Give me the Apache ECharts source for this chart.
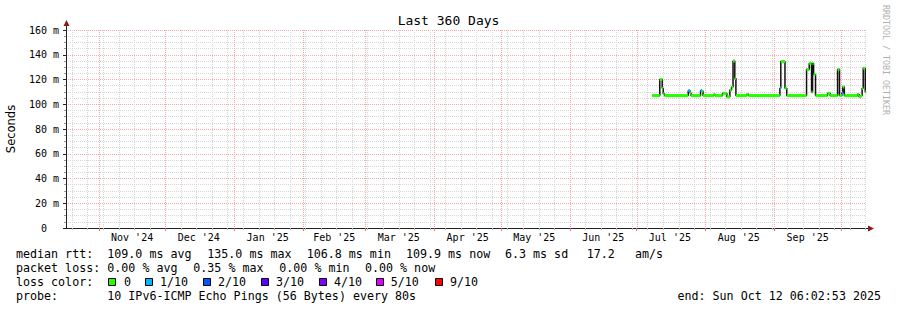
<!DOCTYPE html>
<html><head><meta charset="utf-8">
<script src="https://cdn.jsdelivr.net/npm/echarts@6/dist/echarts.min.js"></script>
<style>html,body{margin:0;padding:0;background:#fff}#c{width:897px;height:310px}</style>
</head><body><div id="c"></div>
<script>
// ---------- data ----------
const periodStart = '2024-10-17 06:02:53';
const periodEnd   = '2025-10-12 06:02:53';

const sampleTimes = [
  '2025-07-08 00:00','2025-07-11 11:00','2025-07-12 13:00','2025-07-13 00:00','2025-07-13 14:00',
  '2025-07-24 06:00','2025-07-25 02:00','2025-07-25 12:00','2025-07-29 19:00','2025-07-30 12:00',
  '2025-07-30 22:00','2025-08-04 19:00','2025-08-05 08:00','2025-08-08 17:00','2025-08-10 15:00',
  '2025-08-12 00:00','2025-08-12 18:00','2025-08-13 10:00','2025-08-14 05:00','2025-08-14 17:00',
  '2025-08-19 15:00','2025-08-20 10:00','2025-09-03 12:00','2025-09-03 22:00','2025-09-05 19:00',
  '2025-09-06 14:00','2025-09-15 12:00','2025-09-16 17:00','2025-09-17 18:00','2025-09-18 05:00',
  '2025-09-18 16:00','2025-09-19 13:00','2025-09-24 23:00','2025-09-26 02:00','2025-09-29 11:00',
  '2025-09-30 08:00','2025-10-01 10:00','2025-10-01 19:00','2025-10-02 12:00','2025-10-08 12:00',
  '2025-10-09 03:00','2025-10-10 00:00','2025-10-10 12:00','2025-10-11 00:00','2025-10-11 22:00',
  '2025-10-12 06:00'
];
const medianRttMs = [
  107, 120, 113, 108.5, 107,
  111, 109, 107, 111, 110.5,
  107, 108, 107, 108.8, 106,
  111.5, 114, 135, 121, 107,
  108, 107, 113, 134.5, 113,
  107, 128, 133, 110, 133,
  124, 107, 108.8, 107, 128,
  107, 109, 114, 107, 108,
  106, 107, 113, 129, 110,
  110
];
const lossCount = [
  0,0,0,0,0,
  1,0,0,1,0,
  0,0,0,0,0,
  0,0,0,0,0,
  0,0,1,0,0,
  0,0,0,0,0,
  0,0,0,0,0,
  0,1,0,0,0,
  0,0,0,0,0,
  0
];

const monthTickLabels = ["Nov '24","Dec '24","Jan '25","Feb '25","Mar '25","Apr '25","May '25","Jun '25","Jul '25","Aug '25","Sep '25"];
const monthLabelDates = ['2024-11-16','2024-12-16','2025-01-16','2025-02-15','2025-03-16','2025-04-16','2025-05-16','2025-06-16','2025-07-16','2025-08-16','2025-09-16'];
const monthStartDates = ['2024-11-01','2024-12-01','2025-01-01','2025-02-01','2025-03-01','2025-04-01','2025-05-01','2025-06-01','2025-07-01','2025-08-01','2025-09-01','2025-10-01'];
const firstWeekLine = '2024-10-20';

const yTickLabels = ['0','20 m','40 m','60 m','80 m','100 m','120 m','140 m','160 m'];

const lossLegendLabels = ['0','1/10','2/10','3/10','4/10','5/10','9/10'];
const lossLegendCounts = [0,1,2,3,4,5,9];
const lossLegendColors = ['#26ff00','#00b8ff','#0059ff','#5e00ff','#7e00ff','#dd00ff','#ff0000'];

const statsRtt  = ['median rtt:', '109.0 ms avg', '135.0 ms max', '106.8 ms min', '109.9 ms now', '6.3 ms sd', '17.2', 'am/s'];
const statsLoss = ['packet loss:', '0.00 % avg', '0.35 % max', '0.00 % min', '0.00 % now'];
const probeText = ['probe:', '10 IPv6-ICMP Echo Pings (56 Bytes) every 80s'];
const endText = 'end: Sun Oct 12 06:02:53 2025';

// ---------- helpers ----------
function utc(s){
  const parts = s.split(' ');
  const d = parts[0].split('-').map(Number);
  const t = (parts[1] || '00:00:00').split(':').map(Number);
  return Date.UTC(d[0], d[1]-1, d[2], t[0]||0, t[1]||0, t[2]||0);
}
const startMs = utc(periodStart), endMs = utc(periodEnd);
const times = sampleTimes.map(utc);
const labelTimes = monthLabelDates.map(utc);
const labelMap = {};
labelTimes.forEach((t,i)=>{ labelMap[t] = monthTickLabels[i]; });
const monthTicks = monthStartDates.map(utc);
const weekTicks = [];
for (let t = utc(firstWeekLine); t < endMs; t += 7*864e5) weekTicks.push(t);
function lossColor(c){ const i = lossLegendCounts.indexOf(c); return lossLegendColors[i < 0 ? 0 : i]; }

const lineData = times.map((t,i)=>[t, medianRttMs[i]]);
const segData = [];
for (let i = 0; i < times.length - 1; i++) segData.push([times[i], times[i+1], medianRttMs[i], lossCount[i]]);

const MONO = 'DejaVu Sans Mono';
const FS = 11.66;
const MAJOR = '#f6a8a8';
const MINOR = '#d6d6d6';

// ---------- graphic (legend/footer text) ----------
const g = [];
function txt(x, y, s, extra){ g.push(Object.assign({type:'text', x:x, y:y, silent:true, style:Object.assign({text:s, font: FS+'px "'+MONO+'"', fill:'#000', textVerticalAlign:'middle'}, extra||{})})); }
const rttX = [16, 107.3, 207.3, 306.7, 406, 505, 586.7, 635];
statsRtt.forEach((s,i)=>txt(rttX[i], 254.3, s));
const lossX = [16, 107.3, 193.3, 279.3, 365];
statsLoss.forEach((s,i)=>txt(lossX[i], 268.3, s));
txt(16, 282.3, 'loss color:');
const boxX = [108.5, 145.5, 203.5, 261.5, 319.5, 376.5, 435.5];
const boxTextX = [124, 160, 218, 276, 334, 390.7, 450];
lossLegendLabels.forEach((s,i)=>{
  g.push({type:'rect', silent:true, shape:{x:boxX[i], y:278.5, width:7, height:7}, style:{fill:lossLegendColors[i], stroke:'#000', lineWidth:1}});
  txt(boxTextX[i], 282.3, s);
});
txt(16, 296.3, probeText[0]);
txt(107.3, 296.3, probeText[1]);
txt(881, 296.3, endText, {textAlign:'right'});
// axis arrows / extensions
g.push({type:'line', silent:true, shape:{x1:66.5, y1:30, x2:66.5, y2:24}, style:{stroke:'#222', lineWidth:1}});
g.push({type:'polygon', silent:true, shape:{points:[[63.5,26],[69.5,26],[66.5,20]]}, style:{fill:'#8b1a1a'}});
g.push({type:'line', silent:true, shape:{x1:866, y1:228.5, x2:869, y2:228.5}, style:{stroke:'#222', lineWidth:1}});
g.push({type:'polygon', silent:true, shape:{points:[[868,225.5],[868,231.5],[874,228.5]]}, style:{fill:'#8b1a1a'}});
// vendor text
g.push({type:'text', silent:true, x:886, y:60, rotation:-Math.PI/2, style:{text:'RRDTOOL / TOBI OETIKER', font:'8.3px "'+MONO+'"', fill:'#b0b0b0', textAlign:'center', textVerticalAlign:'middle'}});

// ---------- chart ----------
const chart = echarts.init(document.getElementById('c'), null, {renderer:'svg'});
chart.setOption({
  animation:false,
  backgroundColor:'#fff',
  title:{text:'Last 360 Days', left:'center', top:9, textStyle:{fontFamily:MONO, fontSize:13, fontWeight:'normal', color:'#000'}},
  grid:{left:66, top:30, width:800, height:198, containLabel:false, outerBoundsMode:'none'},
  xAxis:[
    {type:'value', min:startMs, max:endMs, position:'bottom', scale:true,
     axisLine:{show:true, onZero:false, lineStyle:{color:'#222'}},
     axisTick:{show:true, customValues:weekTicks, length:2, lineStyle:{color:'#bbbbbb'}},
     splitLine:{show:true, lineStyle:{color:MINOR, type:[1,1], width:1}},
     axisLabel:{customValues:labelTimes, formatter:function(v){ return labelMap[v] || ''; }, fontFamily:MONO, fontSize:10, color:'#000', margin:4, hideOverlap:false, showMinLabel:true, showMaxLabel:true}
    },
    {type:'value', min:startMs, max:endMs, position:'bottom', scale:true,
     axisLine:{show:false},
     axisTick:{show:true, customValues:monthTicks, length:3, lineStyle:{color:'#e07070'}},
     splitLine:{show:false},
     axisLabel:{show:false}
    }
  ],
  yAxis:{type:'value', min:0, max:160, interval:20,
    name:'Seconds', nameLocation:'middle', nameGap:49, nameRotate:90,
    nameTextStyle:{fontFamily:'DejaVu Sans', fontSize:11.5, color:'#000'},
    axisLine:{show:true, onZero:false, lineStyle:{color:'#222'}},
    axisTick:{show:true, length:3, lineStyle:{color:'#222'}},
    minorTick:{show:true, splitNumber:4, length:2, lineStyle:{color:'#999'}},
    axisLabel:{formatter:function(v){ const i = Math.round(v/20); return i === 0 ? '{z|' + yTickLabels[0] + '}' : yTickLabels[i]; },
      rich:{z:{fontFamily:MONO, fontSize:10, color:'#000', padding:[0,12,0,0]}},
      fontFamily:MONO, fontSize:10, color:'#000', margin:7, showMinLabel:true, showMaxLabel:true, hideOverlap:false},
    splitLine:{show:true, lineStyle:{color:MAJOR, type:[1,1]}},
    minorSplitLine:{show:true, lineStyle:{color:MINOR, type:[1,1]}}
  },
  series:[
    {type:'custom', xAxisIndex:0, data:monthTicks.map(function(t){ return [t]; }), encode:{x:0}, z:2, silent:true,
     renderItem:function(params, api){
       const top = api.coord([api.value(0), 160]);
       const bot = api.coord([api.value(0), 0]);
       const x = Math.round(top[0]) + 0.5;
       return {type:'line', shape:{x1:x, y1:top[1], x2:x, y2:bot[1]},
               style:{stroke:MAJOR, lineWidth:1, lineDash:[1,1]}};
     }},
    {type:'line', xAxisIndex:0, data:lineData, step:'end', showSymbol:false, symbol:'none',
     lineStyle:{color:'#111', width:1.5}, z:3, silent:true},
    {type:'custom', xAxisIndex:0, data:segData, encode:{x:[0,1], y:2}, z:4, silent:true,
     renderItem:function(params, api){
       const p0 = api.coord([api.value(0), api.value(2)]);
       const p1 = api.coord([api.value(1), api.value(2)]);
       return {type:'rect', shape:{x:p0[0], y:p0[1]-1.5, width:Math.max(p1[0]-p0[0], 1), height:3},
               style:{fill:lossColor(api.value(3))}};
     }}
  ],
  graphic:g
});
</script>
</body></html>
